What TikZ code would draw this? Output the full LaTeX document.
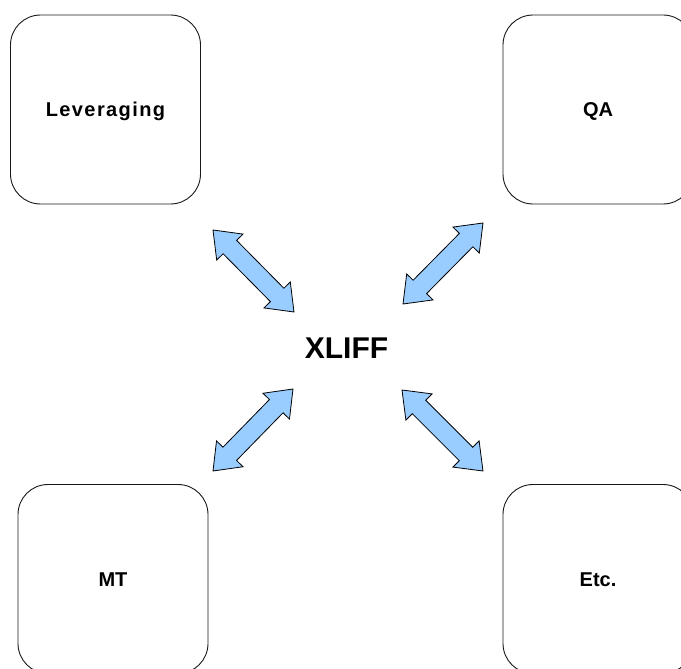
\documentclass[tikz,border=0pt]{standalone}
\usepackage{fontspec}
\setmainfont{Liberation Sans}
\newfontfamily\spacedfont[LetterSpace=7]{Liberation Sans}
\usetikzlibrary{calc}
\definecolor{arrowblue}{HTML}{99CCFF}

\tikzset{
  toolbox/.style={draw=black!90, line width=0.9pt, rounded corners=30pt,
    minimum width=190pt, minimum height=189pt, inner sep=0pt,
    font=\fontsize{20}{24}\selectfont\bfseries, text height=14.3pt, text depth=0pt},
  hub/.style={font=\fontsize{30}{36}\selectfont\bfseries, text height=21.5pt,
    text depth=0pt, inner sep=0pt},
  blockarrow/.style={draw=black, fill=arrowblue, line width=0.8pt, line join=miter}
}

% double-headed block arrow between two named coordinates
\newcommand\dblarrow[2]{%
  \coordinate (#1-h) at ($(#1)!24pt!(#2)$);
  \coordinate (#2-h) at ($(#2)!24pt!(#1)$);
  \draw[blockarrow] (#1)
    -- ($(#1-h)!18.5pt!90:(#2)$) -- ($(#1-h)!9.5pt!90:(#2)$)
    -- ($(#2-h)!9.5pt!-90:(#1)$) -- ($(#2-h)!18.5pt!-90:(#1)$)
    -- (#2)
    -- ($(#2-h)!18.5pt!90:(#1)$) -- ($(#2-h)!9.5pt!90:(#1)$)
    -- ($(#1-h)!9.5pt!-90:(#2)$) -- ($(#1-h)!18.5pt!-90:(#2)$)
    -- cycle;}

\begin{document}
\begin{tikzpicture}[x=1pt, y=-1pt]
  \useasboundingbox (0,0) rectangle (681,669);
  \begin{scope}
    \clip (0,0) rectangle (681,669);
    \node[toolbox] (lev) at (105.5,109.5) {\spacedfont\bfseries Leveraging};
    \node[toolbox] (qa)  at (598,109.5)   {QA};
    \node[toolbox] (mt)  at (113,579)     {MT};
    \node[toolbox] (etc) at (598,579)     {Etc.};
  \end{scope}

  \node[hub] (xliff) at (346.5,347.5) {XLIFF};

  % arrow end points
  \coordinate (lev-a) at (213,230);
  \coordinate (lev-b) at (294,312);
  \coordinate (qa-a)  at (483,223);
  \coordinate (qa-b)  at (403,304);
  \coordinate (mt-a)  at (293,389);
  \coordinate (mt-b)  at (213,471);
  \coordinate (etc-a) at (402,390);
  \coordinate (etc-b) at (483,471);

  \dblarrow{lev-a}{lev-b}
  \dblarrow{qa-a}{qa-b}
  \dblarrow{mt-a}{mt-b}
  \dblarrow{etc-a}{etc-b}
\end{tikzpicture}
\end{document}
